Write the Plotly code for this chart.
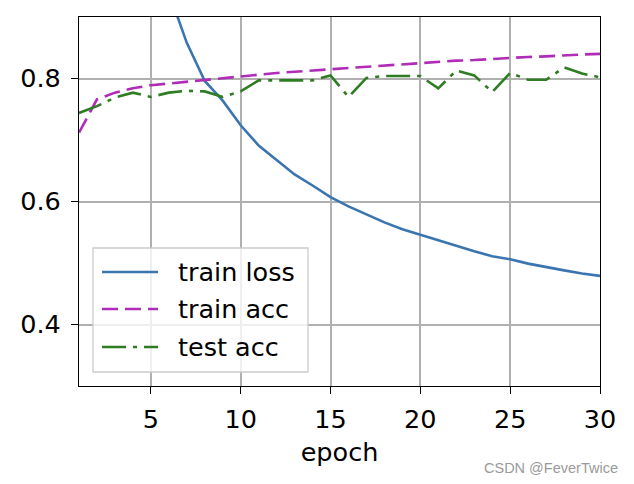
import plotly.graph_objects as go

epochs = list(range(1, 31))
train_loss = [2.25, 1.60, 1.25, 1.08, 1.00, 0.94, 0.858, 0.796, 0.764, 0.724,
              0.691, 0.668, 0.644, 0.626, 0.607, 0.592, 0.579, 0.566, 0.555, 0.546,
              0.537, 0.527, 0.519, 0.511, 0.506, 0.499, 0.493, 0.488, 0.483, 0.479]
train_acc = [0.712, 0.766, 0.777, 0.784, 0.789, 0.792, 0.795, 0.798, 0.800, 0.803,
             0.806, 0.809, 0.811, 0.813, 0.815, 0.818, 0.820, 0.822, 0.824, 0.826,
             0.828, 0.829, 0.830, 0.832, 0.834, 0.835, 0.836, 0.838, 0.839, 0.840]
test_acc = [0.744, 0.755, 0.769, 0.777, 0.770, 0.777, 0.780, 0.779, 0.770, 0.779,
            0.797, 0.797, 0.797, 0.797, 0.805, 0.770, 0.801, 0.804, 0.804, 0.804,
            0.784, 0.813, 0.805, 0.778, 0.809, 0.798, 0.798, 0.818, 0.808, 0.802]

x_ticks = [5, 10, 15, 20, 25, 30]
y_ticks = [0.4, 0.6, 0.8]

series_names = ["train loss", "train acc", "test acc"]
series_colors = ["#3a75b0", "#b02cb8", "#2f7d22"]
series_dashes = ["solid", "16px,7px", "24px,7px,4px,7px"]
series_values = [train_loss, train_acc, test_acc]

font = "DejaVu Sans"
FS = 25.5

# plot area in pixels
W, H = 634, 484
L, R, T, B = 79, 34, 17, 98
pw, ph = W - L - R, H - T - B


def px(xp):
    return (xp - L) / pw


def py(yp):
    return (H - B - yp) / ph


fig = go.Figure()
for name, vals, col, dash in zip(series_names, series_values, series_colors, series_dashes):
    fig.add_trace(go.Scatter(x=epochs, y=vals, mode="lines", name=name, showlegend=False,
                             line=dict(color=col, width=2.6, dash=dash)))

axis_common = dict(showline=True, linecolor="black", linewidth=1.3, mirror=True,
                   ticks="outside", ticklen=7, tickwidth=1.3, tickcolor="black",
                   showgrid=True, gridcolor="#b0b0b0", gridwidth=1.5, zeroline=False,
                   tickfont=dict(family=font, size=FS, color="black"))

fig.update_xaxes(range=[1, 30], tickvals=x_ticks, ticklabelstandoff=3,
                 title=dict(text="epoch", font=dict(family=font, size=FS, color="black"), standoff=10),
                 **axis_common)
fig.update_yaxes(range=[0.3, 0.9], tickvals=y_ticks, tickformat=".1f", ticklabelstandoff=5,
                 **axis_common)

# manual legend (matplotlib style)
shapes = [dict(type="rect", xref="paper", yref="paper",
               x0=px(93), x1=px(308), y0=py(372), y1=py(248),
               fillcolor="rgba(255,255,255,0.8)", line=dict(color="#cccccc", width=1.3),
               layer="above")]
annotations = []
row_y = [272, 309, 347]
for name, col, dash, yy in zip(series_names, series_colors, series_dashes, row_y):
    shapes.append(dict(type="line", xref="paper", yref="paper",
                       x0=px(102), x1=px(158), y0=py(yy), y1=py(yy),
                       line=dict(color=col, width=2.6, dash=dash), layer="above"))
    annotations.append(dict(text=name, xref="paper", yref="paper", x=px(176), y=py(yy),
                            xanchor="left", yanchor="middle", showarrow=False,
                            font=dict(family=font, size=FS, color="black")))

annotations.append(dict(text="CSDN @FeverTwice", xref="paper", yref="paper",
                        x=px(620), y=py(468), xanchor="right", yanchor="middle",
                        showarrow=False, font=dict(family="Liberation Sans", size=14.5, color="#9a9a9a")))

fig.update_layout(
    width=W, height=H,
    margin=dict(l=L, r=R, t=T, b=B),
    paper_bgcolor="white", plot_bgcolor="white",
    font=dict(family=font, size=FS, color="black"),
    showlegend=False,
    shapes=shapes,
    annotations=annotations,
)

fig.write_html("out.html")
